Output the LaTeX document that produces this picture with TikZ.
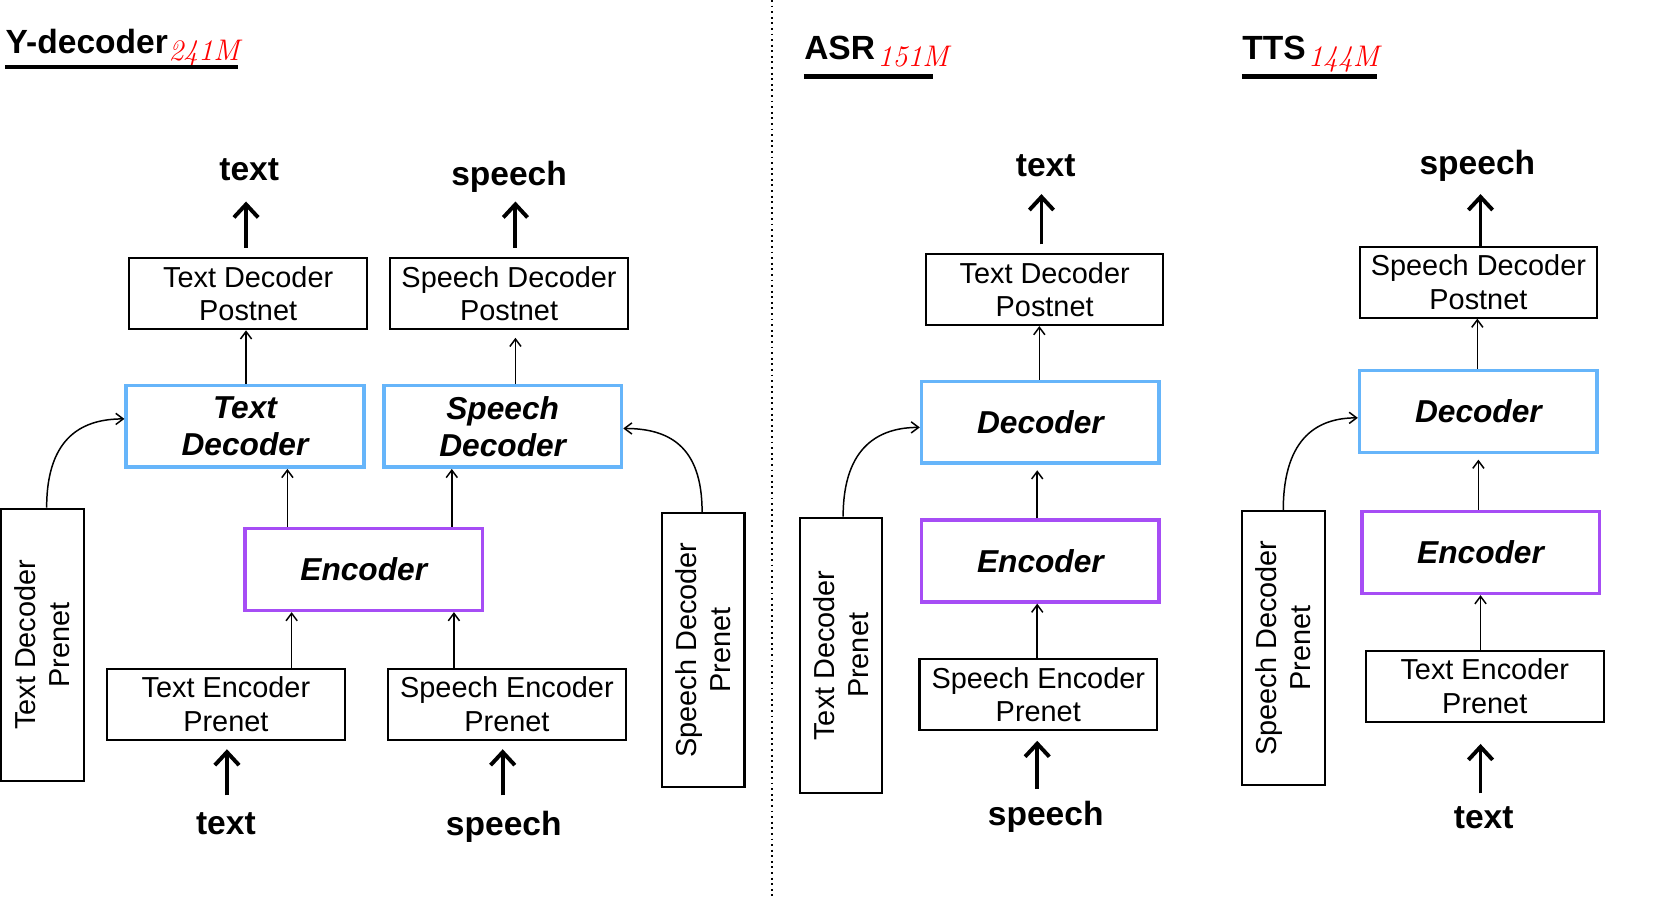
\documentclass[tikz,border=0pt]{standalone}
\usepackage{fontspec}
\setmainfont{Liberation Sans}
\newfontfamily\lmfont{Latin Modern Roman}
\usetikzlibrary{arrows.meta}
\definecolor{dblue}{HTML}{66B5FA}
\definecolor{dpurple}{HTML}{A64DF5}
\tikzset{
 x=0.02cm,y=-0.02cm,
 plainbox/.style={draw,line width=1.1pt,minimum width=224*0.02cm,minimum height=67*0.02cm,align=center,inner sep=0pt,font=\fontsize{15.5}{18}\selectfont},
 decbox/.style={draw=dblue,line width=1.9pt,minimum width=224*0.02cm,minimum height=77*0.02cm,align=center,inner sep=0pt,font=\fontsize{17}{20}\selectfont\bfseries\itshape},
 encbox/.style={decbox,draw=dpurple},
 vbox/.style={draw,line width=1.1pt,minimum width=257*0.02cm,minimum height=78*0.02cm,align=center,inner sep=0pt,rotate=90,font=\fontsize{15.5}{18}\selectfont},
 io/.style={font=\fontsize{18}{20}\selectfont\bfseries},
 thin/.style={-{Straight Barb[length=4pt,width=6pt]},line width=0.8pt},
 thick/.style={-{Straight Barb[length=7pt,width=13pt]},line width=2.1pt},
 curv/.style={thin},
 ttl/.style={anchor=base west,inner sep=0pt,font=\fontsize{18}{20}\selectfont\bfseries},
 sub/.style={anchor=base west,inner sep=0pt,text=red,font=\lmfont\itshape\fontsize{16}{16}\selectfont},
 uline/.style={line width=2.3pt}
}
\begin{document}
\begin{tikzpicture}
\useasboundingbox (0,0) rectangle (1569,845);
\draw[dotted,line width=1pt] (728,0) -- (728,845);
% titles
\node[ttl] (t1) at (5,50) {Y-decoder};
\node[sub] (s1) at (t1.base east) [yshift=-4pt] {241M};
\draw[uline] (5,63) -- (224,63);
\node[ttl] (t2) at (758,56) {ASR};
\node[sub] (s2) at (t2.base east) [xshift=1pt,yshift=-4pt] {151M};
\draw[uline] (758,72) -- (880,72);
\node[ttl] (t3) at (1171,56) {TTS};
\node[sub] (s3) at (t3.base east) [xshift=1pt,yshift=-4pt] {144M};
\draw[uline] (1171,72) -- (1298,72);

% ---------- Y-decoder ----------
\node[plainbox] (tdp) at (234,277) {Text Decoder\\Postnet};
\node[plainbox] (sdp) at (480,277) {Speech Decoder\\Postnet};
\node[decbox] (td) at (231,402) {Text\\Decoder};
\node[decbox] (sd) at (474,402) {Speech\\Decoder};
\node[encbox] (enc) at (343,537) {Encoder};
\node[plainbox] (tep) at (213,664) {Text Encoder\\Prenet};
\node[plainbox] (sep) at (478,664) {Speech Encoder\\Prenet};
\node[vbox] (tdpre) at (40,608) {Text Decoder\\Prenet};
\node[vbox,minimum width=259*0.02cm] (sdpre) at (663,613) {Speech Decoder\\Prenet};
\node[io] (otext) at (235,160) {text};
\node[io] (ospeech) at (480,167) {speech};
\node[io] (itext) at (213,777) {text};
\node[io] (ispeech) at (475,780) {speech};
\draw[thick,shorten <=9*0.02cm] (tdp.north -| 232,0) -- (232,190);
\draw[thick,shorten <=9*0.02cm] (sdp.north -| 486,0) -- (486,190);
\draw[thick,shorten >=8*0.02cm] (214,750) -- (tep.south -| 214,0);
\draw[thick,shorten >=8*0.02cm] (474,750) -- (sep.south -| 474,0);
\draw[thin] (td.north -| 232,0) -- (tdp.south -| 232,0);
\draw[thin] (sd.north -| 486,0) -- ([yshift=-4pt]sdp.south -| 486,0);
\draw[thin] (enc.north -| 271,0) -- (td.south -| 271,0);
\draw[thin] (enc.north -| 426,0) -- (sd.south -| 426,0);
\draw[thin] (tep.north -| 275,0) -- (enc.south -| 275,0);
\draw[thin] (sep.north -| 428,0) -- (enc.south -| 428,0);
\draw[curv] (tdpre.east -| 44,0) .. controls (44,410) and (80,395) .. (td.west |- 0,395);
\draw[curv] (sdpre.east -| 662,0) .. controls (662,420) and (630,404) .. (sd.east |- 0,404);

% ---------- ASR ----------
\node[io] (atext) at (986,156) {text};
\node[plainbox] (atdp) at (985,273) {Text Decoder\\Postnet};
\node[decbox] (adec) at (981,398) {Decoder};
\node[encbox] (aenc) at (981,529) {Encoder};
\node[plainbox] (asep) at (979,655) {Speech Encoder\\Prenet};
\node[io] (aspeech) at (986,770) {speech};
\node[vbox,minimum width=260*0.02cm] (atdpre) at (793,618) {Text Decoder\\Prenet};
\draw[thick,shorten <=8*0.02cm] (atdp.north -| 982,0) -- (982,183);
\draw[thin] (adec.north -| 980,0) -- (atdp.south -| 980,0);
\draw[thin] (aenc.north -| 978,0) -- ([yshift=-3pt]adec.south -| 978,0);
\draw[thin] (asep.north -| 978,0) -- (aenc.south -| 978,0);
\draw[thick,shorten >=9*0.02cm] (978,744) -- (asep.south -| 978,0);
\draw[curv] (atdpre.east -| 795,0) .. controls (795,420) and (830,403) .. (adec.west |- 0,403);

% ---------- TTS ----------
\node[io] (tspeech) at (1393,156) {speech};
\node[plainbox] (tsdp) at (1394,266) {Speech Decoder\\Postnet};
\node[decbox] (tdec) at (1394,388) {Decoder};
\node[encbox] (tenc) at (1396,521) {Encoder};
\node[plainbox] (ttep) at (1400,647) {Text Encoder\\Prenet};
\node[io] (ttext) at (1399,771) {text};
\node[vbox,minimum width=258*0.02cm] (tsdpre) at (1210,611) {Speech Decoder\\Prenet};
\draw[thick] (tsdp.north -| 1396,0) -- (1396,183);
\draw[thin] (tdec.north -| 1393,0) -- (tsdp.south -| 1393,0);
\draw[thin] (tenc.north -| 1394,0) -- ([yshift=-3pt]tdec.south -| 1394,0);
\draw[thin] (ttep.north -| 1396,0) -- (tenc.south -| 1396,0);
\draw[thick,shorten >=20*0.02cm] (1396,748) -- (ttep.south -| 1396,0);
\draw[curv] (tsdpre.east -| 1210,0) .. controls (1210,410) and (1245,394) .. (tdec.west |- 0,394);
\end{tikzpicture}
\end{document}
